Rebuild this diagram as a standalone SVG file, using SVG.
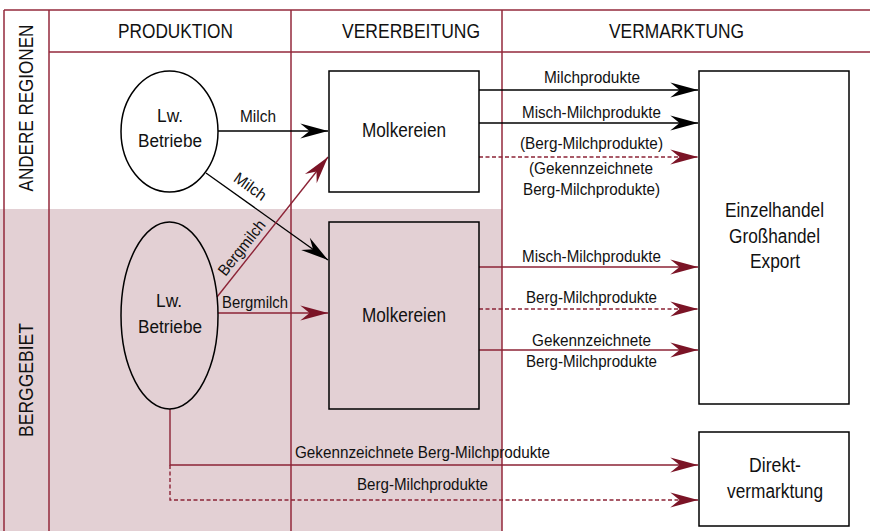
<svg xmlns="http://www.w3.org/2000/svg" width="870" height="531" viewBox="0 0 870 531">
<style>
text{font-family:"Liberation Sans",Arial,sans-serif;fill:#111;}
.hd{font-size:20px;text-anchor:middle;}
.vt{font-size:20px;text-anchor:middle;}
.bx{font-size:20px;text-anchor:middle;}
.el{font-size:18px;text-anchor:middle;}
.lb{font-size:16px;text-anchor:middle;}
.frame{stroke:#93293b;stroke-width:1.5;fill:none;}
.node{stroke:#000;stroke-width:1.5;}
.blk{stroke:#000;stroke-width:1.3;fill:none;marker-end:url(#ab);}
.red{stroke:#8c2336;stroke-width:1.4;fill:none;marker-end:url(#ar);}
.dash{stroke-dasharray:4 2.5;}
</style>
<defs>
<marker id="ab" markerUnits="userSpaceOnUse" markerWidth="30" markerHeight="20" viewBox="-25 -8 26 16" refX="0" refY="0" orient="auto">
<path d="M0,0 L-24,-6.5 L-16,0 L-24,6.5 Z" fill="#000"/>
</marker>
<marker id="ar" markerUnits="userSpaceOnUse" markerWidth="30" markerHeight="20" viewBox="-25 -8 26 16" refX="0" refY="0" orient="auto">
<path d="M0,0 L-24,-6.5 L-16,0 L-24,6.5 Z" fill="#7b1426"/>
</marker>
</defs>
<rect x="0" y="0" width="870" height="531" fill="#fff"/>
<rect x="0" y="209" width="502" height="322" fill="#e3d0d4"/>
<g id="frame">
<line class="frame" x1="4" y1="10" x2="870" y2="10"/>
<line class="frame" x1="4" y1="10" x2="4" y2="531"/>
<line class="frame" x1="49" y1="10" x2="49" y2="531"/>
<line class="frame" x1="49" y1="52" x2="870" y2="52"/>
<line class="frame" x1="291" y1="10" x2="291" y2="531"/>
<line class="frame" x1="502" y1="10" x2="502" y2="531"/>
<text class="hd" x="175.5" y="38" textLength="115" lengthAdjust="spacingAndGlyphs">PRODUKTION</text>
<text class="hd" x="411" y="38" textLength="138" lengthAdjust="spacingAndGlyphs">VERERBEITUNG</text>
<text class="hd" x="676.5" y="38" textLength="135" lengthAdjust="spacingAndGlyphs">VERMARKTUNG</text>
<text class="vt" transform="translate(33,108) rotate(-90) scale(0.853,1)" x="0" y="0">ANDERE REGIONEN</text>
<text class="vt" transform="translate(33,380) rotate(-90) scale(0.877,1)" x="0" y="0">BERGGEBIET</text>
</g>
<g id="connectors">
<line class="blk" x1="218" y1="131" x2="328" y2="131"/>
<line class="blk" x1="206" y1="173" x2="328" y2="260"/>
<line class="red" x1="217" y1="297" x2="328" y2="157"/>
<line class="red" x1="218" y1="313" x2="328" y2="313"/>
<line class="blk" x1="479" y1="90" x2="698" y2="90"/>
<line class="blk" x1="479" y1="123" x2="698" y2="123"/>
<line class="red dash" x1="479" y1="157" x2="698" y2="157"/>
<line class="red" x1="479" y1="267" x2="698" y2="267"/>
<line class="red dash" x1="479" y1="309" x2="698" y2="309"/>
<line class="red" x1="479" y1="350" x2="698" y2="350"/>
<polyline class="red" points="170,409 170,465 698,465"/>
<polyline class="red dash" points="170,465 170,500 698,500"/>
<text class="lb" x="258" y="122" textLength="36" lengthAdjust="spacingAndGlyphs">Milch</text>
<text class="lb" transform="translate(250,187) rotate(35.5)" x="0" y="5" textLength="36" lengthAdjust="spacingAndGlyphs">Milch</text>
<text class="lb" transform="translate(242,248) rotate(-51.6)" x="0" y="5" textLength="66" lengthAdjust="spacingAndGlyphs">Bergmilch</text>
<text class="lb" x="255" y="308" textLength="66" lengthAdjust="spacingAndGlyphs">Bergmilch</text>
<text class="lb" x="592" y="83" textLength="96" lengthAdjust="spacingAndGlyphs">Milchprodukte</text>
<text class="lb" x="591.5" y="118" textLength="139" lengthAdjust="spacingAndGlyphs">Misch-Milchprodukte</text>
<text class="lb" x="591.5" y="149" textLength="143" lengthAdjust="spacingAndGlyphs">(Berg-Milchprodukte)</text>
<text class="lb" x="591" y="174" textLength="124" lengthAdjust="spacingAndGlyphs">(Gekennzeichnete</text>
<text class="lb" x="591.5" y="195" textLength="137" lengthAdjust="spacingAndGlyphs">Berg-Milchprodukte)</text>
<text class="lb" x="591.5" y="262" textLength="139" lengthAdjust="spacingAndGlyphs">Misch-Milchprodukte</text>
<text class="lb" x="591.5" y="303" textLength="131" lengthAdjust="spacingAndGlyphs">Berg-Milchprodukte</text>
<text class="lb" x="591.5" y="346" textLength="119" lengthAdjust="spacingAndGlyphs">Gekennzeichnete</text>
<text class="lb" x="591.5" y="367" textLength="131" lengthAdjust="spacingAndGlyphs">Berg-Milchprodukte</text>
<text class="lb" x="422.5" y="458" textLength="255" lengthAdjust="spacingAndGlyphs">Gekennzeichnete Berg-Milchprodukte</text>
<text class="lb" x="422.5" y="490" textLength="131" lengthAdjust="spacingAndGlyphs">Berg-Milchprodukte</text>
</g>
<g id="lw-top">
<ellipse class="node" cx="169.5" cy="131.5" rx="48.5" ry="60.5" fill="#fff"/>
<text class="el" x="170" y="122" textLength="26" lengthAdjust="spacingAndGlyphs">Lw.</text>
<text class="el" x="170" y="147" textLength="64" lengthAdjust="spacingAndGlyphs">Betriebe</text>
</g>
<g id="lw-berg">
<ellipse class="node" cx="169.5" cy="315.5" rx="48.5" ry="93.5" fill="none"/>
<text class="el" x="169" y="307" textLength="26" lengthAdjust="spacingAndGlyphs">Lw.</text>
<text class="el" x="170" y="333" textLength="64" lengthAdjust="spacingAndGlyphs">Betriebe</text>
</g>
<g id="molk-top">
<rect class="node" x="329" y="71" width="150" height="121" fill="#fff"/>
<text class="bx" x="404" y="137" textLength="84" lengthAdjust="spacingAndGlyphs">Molkereien</text>
</g>
<g id="molk-berg">
<rect class="node" x="329" y="222" width="150" height="187" fill="none"/>
<text class="bx" x="404" y="322" textLength="84" lengthAdjust="spacingAndGlyphs">Molkereien</text>
</g>
<g id="handel">
<rect class="node" x="699" y="71" width="150" height="333" fill="#fff"/>
<text class="bx" x="774.5" y="217" textLength="99" lengthAdjust="spacingAndGlyphs">Einzelhandel</text>
<text class="bx" x="774.5" y="243" textLength="91" lengthAdjust="spacingAndGlyphs">Großhandel</text>
<text class="bx" x="775" y="268" textLength="50" lengthAdjust="spacingAndGlyphs">Export</text>
</g>
<g id="direkt">
<rect class="node" x="699" y="432" width="150" height="94" fill="#fff"/>
<text class="bx" x="775" y="472" textLength="52" lengthAdjust="spacingAndGlyphs">Direkt-</text>
<text class="bx" x="775" y="498" textLength="96" lengthAdjust="spacingAndGlyphs">vermarktung</text>
</g>
</svg>
